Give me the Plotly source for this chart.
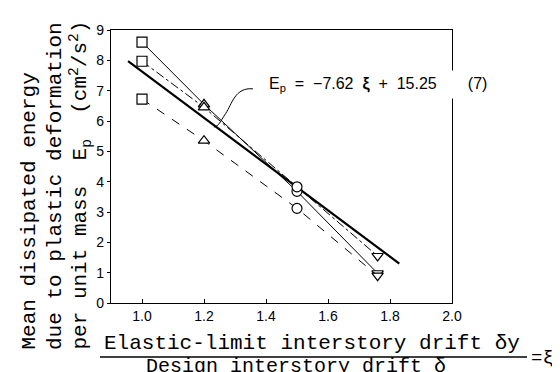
import plotly.graph_objects as go

# Data (ξ, Ep)
xi = [1.0, 1.2, 1.5, 1.76]
symbols = ["square", "triangle-up", "circle", "triangle-down"]
ep_solid = [8.60, 6.55, 3.68, 0.98]
ep_dashdot = [7.97, 6.45, 3.83, 1.55]
ep_dashed = [6.72, 5.35, 3.12, 0.90]
fit_x = [0.955, 1.83]
fit_y = [7.97, 1.30]
x_ticks = [1.0, 1.2, 1.4, 1.6, 1.8, 2.0]
y_ticks = [0, 1, 2, 3, 4, 5, 6, 7, 8, 9]

OFF = 8  # default page body margin
W, H = 560 - OFF, 372 - OFF
# plot area in window pixels: x 111..452, y 30..303
L, T = 111 - OFF, 30 - OFF
R = W - (452 - OFF)
B = H - (303 - OFF)
pw, ph = W - L - R, H - T - B


def px(x):
    return (x - OFF - L) / pw


def py(y):
    return (H - B - (y - OFF)) / ph


fig = go.Figure()

fig.add_trace(go.Scatter(x=fit_x, y=fit_y, mode="lines",
                         line=dict(color="black", width=2.2), showlegend=False))

for ys, dash in [(ep_solid, "solid"), (ep_dashdot, "dashdot"), (ep_dashed, "dash")]:
    fig.add_trace(go.Scatter(
        x=xi, y=ys, mode="lines+markers",
        line=dict(color="black", width=1, dash=dash),
        marker=dict(symbol=symbols, size=10, color="white",
                    line=dict(color="black", width=1.2)),
        showlegend=False))

mono = "Liberation Mono, Courier New, monospace"
sans = "Liberation Sans, Arial, sans-serif"
sp = "&nbsp;"

annotations = [
    dict(x=1.395, y=7.19, xref="x", yref="y", xanchor="left", yanchor="middle",
         text=("E<sub>p</sub>" + sp * 2 + "=" + sp * 2 + "\u22127.62" + sp * 2 + "<b>\u03be</b>"
               + sp * 2 + "+" + sp * 2 + "15.25" + sp * 7 + "(7)"),
         showarrow=False, font=dict(family=sans, size=16, color="black"),
         bgcolor="white", borderpad=4),
    dict(x=px(29), y=py(352), xref="paper", yref="paper", xanchor="center", yanchor="bottom",
         text="Mean dissipated energy", textangle=-90, showarrow=False,
         font=dict(family=mono, size=21, color="black")),
    dict(x=px(55), y=py(352), xref="paper", yref="paper", xanchor="center", yanchor="bottom",
         text="due to plastic deformation", textangle=-90, showarrow=False,
         font=dict(family=mono, size=21, color="black")),
    dict(x=px(80), y=py(352), xref="paper", yref="paper", xanchor="center", yanchor="bottom",
         text="per unit mass&nbsp;&nbsp;E<sub>p</sub>&nbsp;&nbsp;(cm<sup>2</sup>/s<sup>2</sup>)",
         textangle=-90, showarrow=False,
         font=dict(family=mono, size=21, color="black")),
    dict(x=px(312), y=py(343), xref="paper", yref="paper", xanchor="center", yanchor="middle",
         text="Elastic-limit interstory drift \u03b4y", showarrow=False,
         font=dict(family=mono, size=21, color="black")),
    dict(x=px(296), y=py(366), xref="paper", yref="paper", xanchor="center", yanchor="middle",
         text="Design interstory drift \u03b4", showarrow=False,
         font=dict(family=mono, size=20, color="black")),
    dict(x=px(529), y=py(358), xref="paper", yref="paper", xanchor="left", yanchor="middle",
         text="=\u03be", showarrow=False,
         font=dict(family=mono, size=19, color="black")),
]

shapes = [
    dict(type="line", xref="paper", yref="paper", x0=px(100), x1=px(527),
         y0=py(357), y1=py(357), line=dict(color="black", width=1.3)),
    dict(type="path", xref="x", yref="y",
         path="M 1.358,7.06 C 1.30,7.12 1.29,6.55 1.27,6.25 S 1.25,5.85 1.232,5.80",
         line=dict(color="black", width=1)),
]

fig.update_layout(
    width=W, height=H,
    margin=dict(l=L, r=R, t=T, b=B),
    paper_bgcolor="white", plot_bgcolor="white",
    annotations=annotations, shapes=shapes,
    xaxis=dict(range=[0.9, 2.0], tickvals=x_ticks, ticktext=[f"{v:.1f}" for v in x_ticks],
               ticks="inside", ticklen=4, tickcolor="black",
               showline=True, linecolor="black", linewidth=1.3, mirror=True,
               showgrid=False, zeroline=False,
               tickfont=dict(family=sans, size=14, color="black")),
    yaxis=dict(range=[0, 9], tickvals=y_ticks,
               ticks="outside", ticklen=3, tickcolor="black",
               showline=True, linecolor="black", linewidth=1.3, mirror=True,
               showgrid=False, zeroline=False,
               tickfont=dict(family=sans, size=14, color="black")),
)

fig.write_html("out.html")
